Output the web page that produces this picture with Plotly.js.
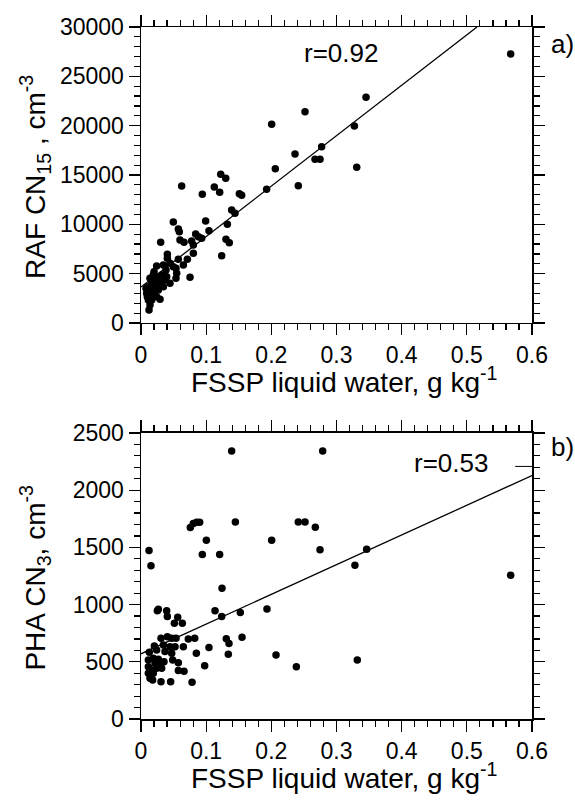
<!DOCTYPE html>
<html>
<head>
<meta charset="utf-8">
<script src="https://cdn.plot.ly/plotly-3.0.1.min.js"></script>
<style>html,body{margin:0;padding:0;background:#fff;}#chart{width:575px;height:805px;}</style>
</head>
<body>
<div id="chart"></div>
<script>
// Panel a) RAF CN15 vs FSSP liquid water
const lwcA = [0.5673,0.3453,0.3274,0.331,0.2517,0.2005,0.2772,0.2363,0.267,0.2747,0.2061,0.1223,0.13,0.2414,0.1928,0.0624,0.1125,0.1207,0.0941,0.1509,0.1545,0.1391,0.1442,0.0496,0.0992,0.0573,0.0588,0.1325,0.1043,0.0302,0.0598,0.066,0.0839,0.088,0.0931,0.0777,0.0803,0.1304,0.1355,0.1238,0.0404,0.0404,0.0573,0.0711,0.0803,0.065,0.0445,0.0496,0.0537,0.0547,0.0537,0.0343,0.0384,0.0317,0.024,0.02,0.0752,0.0445,0.0292,0.0123,
  0.0138,0.0189,0.024,0.0164,0.0215,0.0266,0.0317,0.0343,0.0113,0.0164,0.0215,0.0266,0.0087,0.0138,0.0189,0.024,0.0113,0.0164,0.0138,0.0292,0.0368,0.0394,0.0077,0.0097];
const cn15 = [27263,22872,19966,15778,21417,20133,17870,17126,16586,16586,15640,15066,14660,13917,13546,13884,13782,13242,13039,13107,12938,11451,11114,10235,10337,9526,9256,9999,9357,8175,8411,8175,9019,8749,8580,8310,7904,8479,8141,6824,6959,6553,6452,6452,7060,5878,6047,5709,5540,5033,4526,5878,5371,4864,5776,5202,4628,4020,2398,1317,
  4527,4864,4695,4020,4189,4020,4189,3682,3682,3344,3513,3344,3006,2838,3006,2669,2331,2331,1824,3851,4358,4695,3513,2669];
const fitAX = [0, 0.5156];
const fitAY = [3650, 30000];
const labelA = "r=0.92";

// Panel b) PHA CN3 vs FSSP liquid water
const lwcB = [0.1391,0.2788,0.0757,0.0803,0.0854,0.09,0.1448,0.2414,0.2517,0.2675,0.1003,0.2005,0.0123,0.2747,0.0153,0.0941,0.1207,0.1243,0.0251,0.0266,0.0394,0.0404,0.0563,0.0512,0.0634,0.1136,0.1238,0.1524,0.1933,
  0.0307,0.0404,0.0471,0.0537,0.0726,0.0824,0.1309,0.135,0.155,0.0205,0.0343,0.0445,0.0522,0.065,0.1043,0.0128,0.024,0.0368,0.0471,0.0849,0.134,0.2072,
  0.0113,0.0189,0.0266,0.0353,0.0486,0.0573,0.0977,0.2384,0.0113,0.0164,0.024,0.0317,0.0189,0.0573,0.066,0.0113,0.0138,0.0179,0.0307,0.0455,0.0783,0.0215,0.0292,
  0.3463,0.3283,0.5673,0.3319];
const cn3 = [2343,2343,1673,1710,1719,1719,1722,1722,1722,1676,1562,1562,1474,1480,1340,1437,1437,1142,947,959,947,895,889,836,836,947,895,932,961,
  705,720,705,705,699,705,702,661,714,638,647,632,632,632,626,583,603,589,574,574,565,560,
  516,530,522,501,516,492,466,457,457,428,443,443,399,423,417,399,356,341,326,326,321,487,472,
  1483,1343,1256,516];
const fitBX = [0, 0.6];
const fitBY = [570, 2128];
const labelB = "r=0.53";

const xTitle = "FSSP liquid water, g kg<sup>-1</sup>";
const yTitleA = "RAF CN<sub>15</sub> , cm<sup>-3</sup>";
const yTitleB = "PHA CN<sub>3</sub>, cm<sup>-3</sup>";

const FONT = "Liberation Sans, Arial, Helvetica, sans-serif";
const mk = {color: "#000", size: 7.5};
const ln = {color: "#000", width: 1.3};

const traces = [
  {x: lwcA, y: cn15, type: "scatter", mode: "markers", marker: mk, xaxis: "x", yaxis: "y"},
  {x: fitAX, y: fitAY, type: "scatter", mode: "lines", line: ln, xaxis: "x", yaxis: "y"},
  {x: lwcB, y: cn3, type: "scatter", mode: "markers", marker: mk, xaxis: "x2", yaxis: "y2"},
  {x: fitBX, y: fitBY, type: "scatter", mode: "lines", line: ln, xaxis: "x2", yaxis: "y2"}
];

function xax(anchor) {
  return {
    anchor: anchor, domain: [0, 1], range: [0, 0.6], tick0: 0, dtick: 0.1,
    ticks: "outside", ticklen: 11, tickwidth: 1.3, tickcolor: "#000",
    showline: true, linecolor: "#000", linewidth: 1.5, mirror: "allticks",
    showgrid: false, zeroline: false,
    minor: {dtick: 0.02, ticks: "outside", ticklen: 6, tickwidth: 1.2, tickcolor: "#000", showgrid: false},
    tickfont: {family: FONT, size: 23, color: "#000"}
  };
}
function yax(anchor, domain, range, dtick, mdt) {
  return {
    anchor: anchor, domain: domain, range: range, tick0: 0, dtick: dtick, tickformat: "d",
    ticks: "outside", ticklen: 11, tickwidth: 1.3, tickcolor: "#000",
    showline: true, linecolor: "#000", linewidth: 1.5, mirror: "allticks",
    showgrid: false, zeroline: false,
    minor: {dtick: mdt, ticks: "outside", ticklen: 6, tickwidth: 1.2, tickcolor: "#000", showgrid: false},
    tickfont: {family: FONT, size: 23, color: "#000"}
  };
}

const tf = {family: FONT, size: 26, color: "#000"};
const tfT = {family: FONT, size: 28, color: "#000"};
const layout = {
  width: 575, height: 805,
  margin: {l: 141, r: 43, t: 27, b: 86},
  paper_bgcolor: "#fff", plot_bgcolor: "#fff",
  showlegend: false,
  xaxis: xax("y"),
  yaxis: yax("x", [0.5723, 1], [0, 30000], 5000, 1000),
  xaxis2: xax("y2"),
  yaxis2: yax("x2", [0, 0.4133], [0, 2500], 500, 100),
  annotations: [
    {text: xTitle, xref: "paper", yref: "paper", x: 0.52, y: 0.49, showarrow: false, font: tfT, xanchor: "center", yanchor: "middle"},
    {text: xTitle, xref: "paper", yref: "paper", x: 0.52, y: -0.082, showarrow: false, font: tfT, xanchor: "center", yanchor: "middle"},
    {text: yTitleA, xref: "paper", yref: "paper", x: -0.27, y: 0.784, textangle: -90, showarrow: false, font: tfT, xanchor: "center", yanchor: "middle"},
    {text: yTitleB, xref: "paper", yref: "paper", x: -0.27, y: 0.205, textangle: -90, showarrow: false, font: tfT, xanchor: "center", yanchor: "middle"},
    {text: labelA, xref: "x", yref: "y", x: 0.307, y: 27365, showarrow: false, font: tf, xanchor: "center", yanchor: "middle"},
    {text: labelB, xref: "x2", yref: "y2", x: 0.4757, y: 2238, showarrow: false, font: tf, xanchor: "center", yanchor: "middle"},
    {text: "a)", xref: "paper", yref: "paper", x: 1.079, y: 0.976, showarrow: false, font: tf, xanchor: "center", yanchor: "middle"},
    {text: "b)", xref: "paper", yref: "paper", x: 1.079, y: 0.393, showarrow: false, font: tf, xanchor: "center", yanchor: "middle"}
  ],
  shapes: [
    {type: "line", xref: "paper", yref: "paper", x0: 0.957, x1: 1.0, y0: 0.365, y1: 0.365, line: {color: "#000", width: 1}}
  ]
};

Plotly.newPlot("chart", traces, layout, {staticPlot: true, displayModeBar: false});
</script>
</body>
</html>
